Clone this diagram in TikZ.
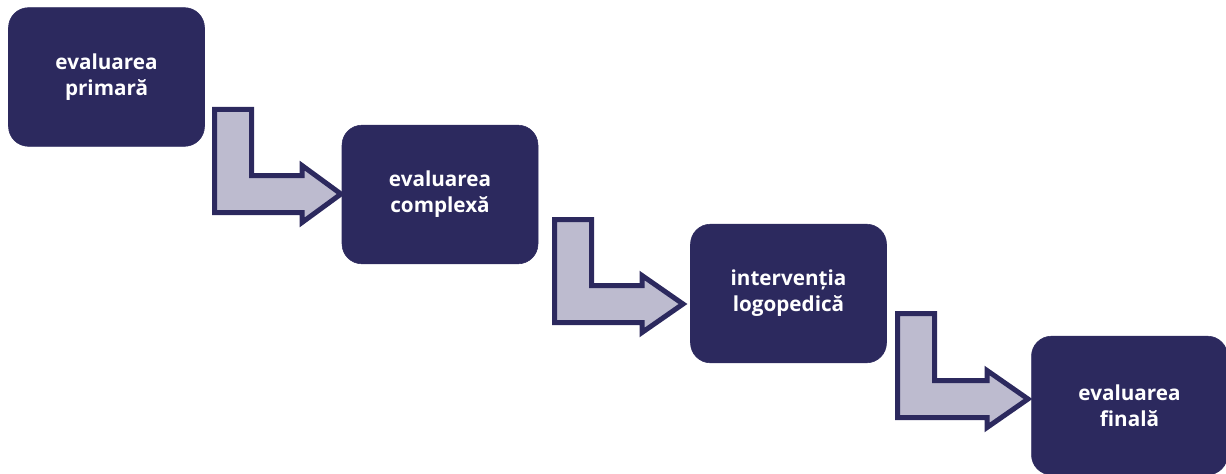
\documentclass[tikz,border=0pt]{standalone}
\usepackage{fontspec}
\setmainfont{Open Sans}
\definecolor{navy}{HTML}{2C295E}
\definecolor{lav}{HTML}{BDBBCF}
\newcommand{\blockarrow}[5]{%
  \draw[barrow] (#1,#2) -- ({#1+37},#2) -- ({#1+37},#3) -- (#4,#3) -- (#4,{#3-10})
    -- (#5,{#3+18.5}) -- (#4,{#3+47}) -- (#4,{#3+37}) -- (#1,{#3+37}) -- cycle;}
\begin{document}
\begin{tikzpicture}[x=0.75pt,y=-0.75pt,
  box/.style={fill=navy,draw=navy,rounded corners=15pt,minimum width=147pt,minimum height=104pt,
    inner sep=0pt,align=center,text=white,font=\fontsize{15.5}{19.5}\selectfont\bfseries},
  barrow/.style={fill=lav,draw=navy,line width=3.75pt,line join=miter,miter limit=10}]
\useasboundingbox (0,0) rectangle (1226,474);
\clip (0,0) rectangle (1226,474);
\blockarrow{214.5}{109.5}{175.5}{302}{341}
\blockarrow{554.5}{219.5}{285.5}{642}{683}
\blockarrow{897.5}{313.5}{380.5}{987}{1028}
\node[box] (b1) at (106.5,77) {evaluarea\\primară};
\node[box] (b2) at (440,194.5) {evaluarea\\complexă};
\node[box] (b3) at (788.5,293.5) {intervenția\\logopedică};
\node[box] (b4) at (1129.5,405.5) {evaluarea\\finală};
\end{tikzpicture}
\end{document}
